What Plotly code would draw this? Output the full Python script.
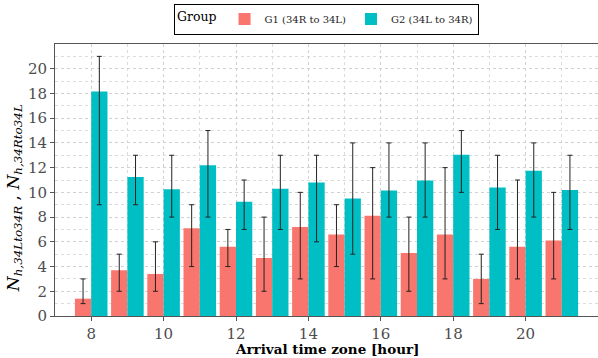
import plotly.graph_objects as go

hours = list(range(8, 22))
g1_vals = [1.4, 3.7, 3.4, 7.1, 5.6, 4.7, 7.2, 6.6, 8.1, 5.1, 6.6, 3.0, 5.6, 6.1]
g1_lo = [1, 2, 2, 4, 4, 2, 3, 4, 3, 2, 3, 1, 3, 3]
g1_hi = [3, 5, 6, 9, 7, 8, 10, 9, 12, 8, 12, 5, 11, 10]
g2_vals = [18.15, 11.25, 10.25, 12.2, 9.25, 10.3, 10.8, 9.5, 10.15, 10.95, 13.05, 10.4, 11.75, 10.2]
g2_lo = [9, 9, 8, 8, 7, 7, 6, 5, 8, 8, 10, 7, 8, 7]
g2_hi = [21, 13, 13, 15, 11, 13, 13, 14, 14, 14, 15, 13, 14, 13]

names = ["G1 (34R to 34L)", "G2 (34L to 34R)"]
colors = ["#F8766D", "#00BFC4"]
x_title = "Arrival time zone [hour]"
y_title = "<i>N</i><sub><i>h,34Lto34R</i></sub> , <i>N</i><sub><i>h,34Rto34L</i></sub>"

FONT = "DejaVu Serif"
fig = go.Figure()
for name, col, vals, lo, hi in [
    (names[0], colors[0], g1_vals, g1_lo, g1_hi),
    (names[1], colors[1], g2_vals, g2_lo, g2_hi),
]:
    fig.add_trace(go.Bar(
        x=hours, y=vals, name=name, marker=dict(color=col, line=dict(width=0)),
        error_y=dict(type="data", symmetric=False,
                     array=[h - v for h, v in zip(hi, vals)],
                     arrayminus=[v - l for v, l in zip(vals, lo)],
                     color="#222222", thickness=1, width=2.5),
    ))

grid = dict(showgrid=True, gridcolor="#d0d0d0", griddash="dot", gridwidth=1)
fig.update_layout(
    width=598, height=358,
    margin=dict(l=55, r=0, t=44, b=42),
    plot_bgcolor="white", paper_bgcolor="white",
    barmode="group", bargap=0.1, bargroupgap=0,
    font=dict(family=FONT, color="#4d4d4d", size=15),
    legend=dict(orientation="h", x=0.5, xanchor="center", y=0.99, yanchor="top",
                yref="container", bordercolor="black", borderwidth=1,
                title=dict(text="Group", side="left", font=dict(size=12.5, color="black")),
                font=dict(size=10, color="#222222"), itemwidth=30),
    xaxis=dict(range=[7, 22], tickvals=[8, 10, 12, 14, 16, 18, 20], **grid,
               minor=dict(tickvals=[7, 9, 11, 13, 15, 17, 19, 21], showgrid=True,
                          gridcolor="#dcdcdc", griddash="dot"),
               showline=True, linecolor="#555555", linewidth=1, mirror=True,
               ticks="outside", ticklen=4, tickcolor="#555555",
               tickfont=dict(size=15, color="#4d4d4d"),
               zeroline=False),
    yaxis=dict(range=[0, 22], tickvals=list(range(0, 21, 2)), **grid,
               minor=dict(tickvals=list(range(1, 22, 2)), showgrid=True,
                          gridcolor="#dcdcdc", griddash="dot"),
               showline=True, linecolor="#555555", linewidth=1, mirror=True,
               ticks="outside", ticklen=4, tickcolor="#555555",
               tickfont=dict(size=15, color="#4d4d4d"),
               zeroline=False),
    annotations=[
        dict(text="<b>" + x_title + "</b>", xref="paper", yref="paper",
             x=0.5, y=-0.122, xanchor="center", yanchor="middle",
             showarrow=False, font=dict(size=13.5, color="black")),
        dict(text=y_title, xref="paper", yref="paper", textangle=-90,
             x=-0.0746, y=0.435, xanchor="center", yanchor="middle",
             showarrow=False, font=dict(size=17, color="black")),
    ],
)
fig.write_html("out.html")
